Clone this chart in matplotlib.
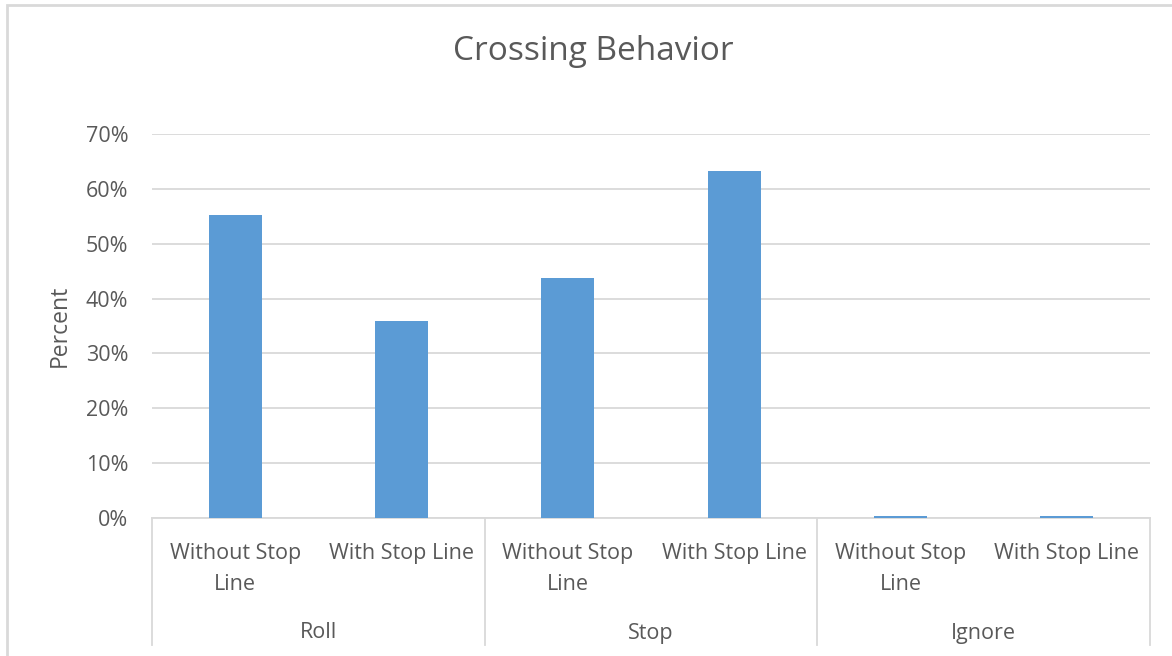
import matplotlib
matplotlib.use("Agg")
import matplotlib.pyplot as plt
from matplotlib.patches import Rectangle
from matplotlib.ticker import FuncFormatter

# data
groups = ["Roll", "Stop", "Ignore"]
conditions = ["Without Stop\nLine", "With Stop Line"]
percent = [55.2, 36.0, 43.8, 63.2, 0.4, 0.4]

plt.rcParams["font.family"] = ["Open Sans", "DejaVu Sans"]
TXT = "#595959"
GRID = "#d9d9d9"
BAR = "#5b9bd5"
FS = 15.5

W, H = 1172, 656
fig = plt.figure(figsize=(W / 100, H / 100), dpi=100)
ax = fig.add_axes([152 / W, (H - 518) / H, (1150 - 152) / W, (518 - 134) / H])

# outer chart border (runs off right and bottom edge like the screenshot)
fig.patches.append(Rectangle((7 / W, -0.1), 1.2, (H - 5) / H + 0.1,
                             transform=fig.transFigure, fill=False,
                             edgecolor=GRID, linewidth=2, zorder=0))

x = list(range(len(percent)))
ax.bar(x, percent, width=0.32, color=BAR, zorder=3)

ax.set_xlim(-0.5, len(percent) - 0.5)
ax.set_ylim(0, 70)
ax.set_yticks(range(0, 71, 10))
ax.yaxis.set_major_formatter(FuncFormatter(lambda v, p: f"{v:.0f}%"))
ax.tick_params(axis="y", length=0, pad=17, labelsize=FS, labelcolor=TXT)
ax.set_xticks([])
ax.grid(axis="y", color=GRID, linewidth=1.3, zorder=0)
for s in ["top", "right", "left"]:
    ax.spines[s].set_visible(False)
ax.spines["bottom"].set_color(GRID)
ax.spines["bottom"].set_linewidth(1.3)

ax.set_ylabel("Percent", fontsize=16.5, color=TXT, labelpad=10)
fig.text(593 / W, (H - 52) / H, "Crossing Behavior", ha="center", va="center",
         fontsize=24, color=TXT)

# two-level category axis
tr = ax.get_xaxis_transform()
ax_h = (518 - 134)
n = len(conditions)
for gi, g in enumerate(groups):
    for ci, c in enumerate(conditions):
        ax.text(gi * n + ci, -(551 - 518 - 8) / ax_h, c, transform=tr,
                ha="center", va="top", fontsize=FS, color=TXT,
                linespacing=1.65, clip_on=False)
    ax.text(gi * n + (n - 1) / 2, -(633 - 518) / ax_h, g, transform=tr,
            ha="center", va="center", fontsize=FS, color=TXT, clip_on=False)
for b in range(len(groups) + 1):
    ax.plot([b * n - 0.5] * 2, [0, -(645 - 518) / ax_h], transform=tr,
            color=GRID, linewidth=1.3, clip_on=False)

fig.savefig("out.png", dpi=100)
